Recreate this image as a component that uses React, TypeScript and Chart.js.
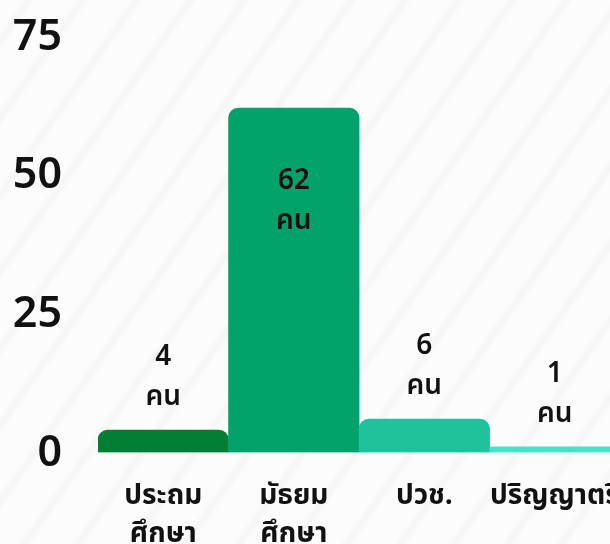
import React, { useEffect, useRef } from "react";
import { Chart, registerables } from "chart.js";

Chart.register(...registerables);

const categories: (string | string[])[] = [["ประถม", "ศึกษา"], ["มัธยม", "ศึกษา"], "ปวช.", "ปริญญาตรี"];
const counts = [4, 62, 6, 1];
const unitLabel = "คน";
const barColors = ["#017E34", "#03A26B", "#1FC29A", "#42E1D0"];
const yTicks = [0, 25, 50, 75];

const FONT = "'Noto Sans Thai', 'Noto Sans', sans-serif";

const valueLabels = {
  id: "valueLabels",
  afterDatasetsDraw(chart: any) {
    const ctx = chart.ctx;
    const meta = chart.getDatasetMeta(0);
    ctx.save();
    ctx.font = `600 28px ${FONT}`;
    ctx.fillStyle = "#111";
    ctx.textAlign = "center";
    ctx.textBaseline = "middle";
    meta.data.forEach((bar: any, i: number) => {
      const v = counts[i];
      const x = bar.x;
      const top = bar.y;
      let y1: number, y2: number;
      if (v > 30) {
        y1 = top + 75;
        y2 = top + 115;
      } else {
        y2 = top - 31;
        y1 = y2 - 40;
      }
      ctx.fillText(String(v), x, y1);
      ctx.fillText(unitLabel, x, y2);
    });
    ctx.restore();
  },
};

export default function App() {
  const ref = useRef<HTMLCanvasElement | null>(null);
  useEffect(() => {
    if (!ref.current) return;
    const chart = new Chart(ref.current, {
      type: "bar",
      data: {
        labels: categories,
        datasets: [
          {
            data: counts,
            backgroundColor: barColors,
            borderRadius: 10,
            borderSkipped: "start",
            barPercentage: 1,
            categoryPercentage: 1,
          },
        ],
      },
      options: {
        animation: false,
        responsive: false,
        layout: { padding: { top: 36, right: 10, bottom: 8, left: 0 } },
        plugins: { legend: { display: false }, tooltip: { enabled: false } },
        scales: {
          x: {
            grid: { display: false, drawTicks: false },
            border: { display: false },
            ticks: {
              color: "#111",
              padding: 27,
              maxRotation: 0,
              autoSkip: false,
              font: { family: FONT, size: 28, weight: "bold", lineHeight: 1.35 },
            },
          },
          y: {
            min: 0,
            max: 75,
            afterFit: (s: any) => {
              s.width = 98;
            },
            afterBuildTicks: (s: any) => {
              s.ticks = yTicks.map((v) => ({ value: v }));
            },
            grid: { display: false, drawTicks: true, tickLength: 36 },
            border: { display: false },
            ticks: {
              color: "#111",
              padding: 0,
              labelOffset: 5,
              font: { family: FONT, size: 43, weight: "600" },
            },
          },
        },
      },
      plugins: [valueLabels],
    });
    return () => chart.destroy();
  }, []);
  return (
    <div
      style={{
        position: "fixed",
        left: 0,
        top: 0,
        width: 610,
        height: 544,
        overflow: "hidden",
        background:
          "repeating-linear-gradient(125deg, #fcfcfc 0px, #fcfcfc 18px, #f5f5f5 24px, #fcfcfc 30px, #fcfcfc 44px)",
      }}
    >
      <canvas ref={ref} width={648} height={590} style={{ display: "block" }} />
    </div>
  );
}
